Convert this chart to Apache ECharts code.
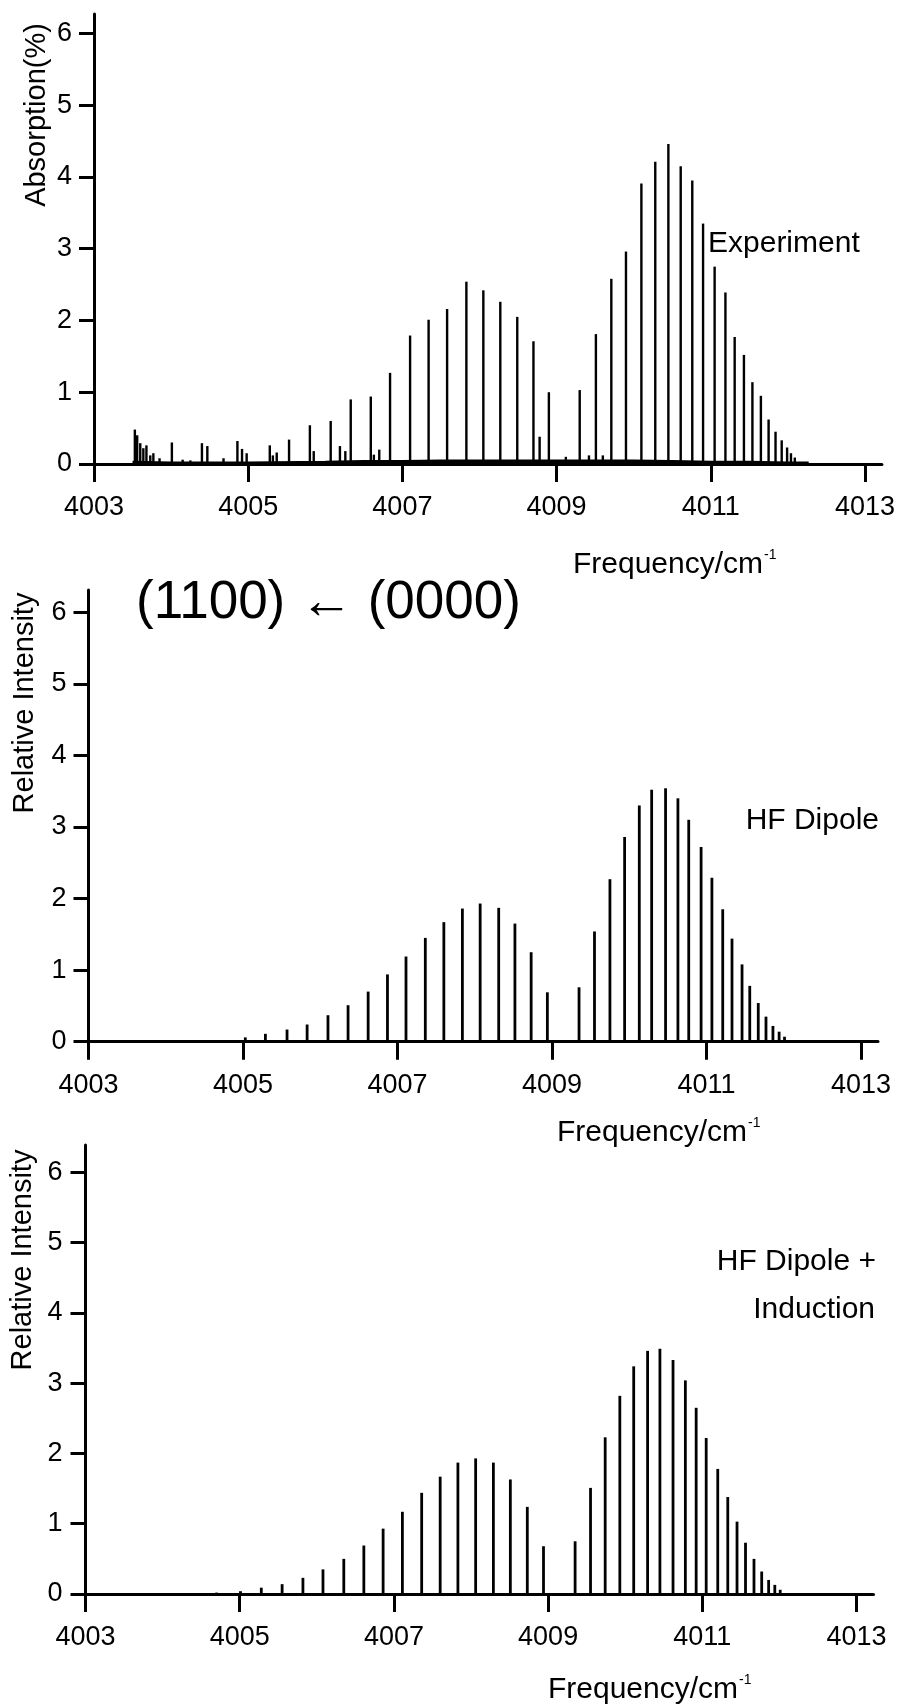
<!DOCTYPE html>
<html><head><meta charset="utf-8">
<script src="https://cdn.jsdelivr.net/npm/echarts@6/dist/echarts.min.js"></script>
<style>html,body{margin:0;padding:0;background:#fff}#c{width:898px;height:1704px}</style>
</head><body><div id="c"></div>
<script>
// ---- tick labels ----
const X_TICKS = [4003, 4005, 4007, 4009, 4011, 4013];
const Y_TICKS = [0, 1, 2, 3, 4, 5, 6];

// ---- Experiment (absorption %) ----
const expFreq = [4003.53,4003.56,4003.60,4003.64,4003.68,4003.73,4003.77,4003.85,4004.01,4004.15,4004.25,
  4004.40,4004.47,4004.68,4004.86,4004.92,4004.98,4005.28,4005.32,4005.37,4005.53,4005.80,4005.85,
  4006.07,4006.19,4006.26,4006.33,4006.59,4006.63,4006.70,4006.84,4007.10,4007.34,4007.58,4007.83,
  4008.05,4008.27,4008.49,4008.70,4008.78,4008.90,4009.12,4009.30,4009.42,4009.51,4009.60,4009.71,
  4009.90,4010.10,4010.28,4010.45,4010.61,4010.76,4010.90,4011.05,4011.19,4011.31,4011.43,4011.54,
  4011.65,4011.75,4011.84,4011.92,4011.99,4012.04,4012.09];
const expInt = [0.48,0.40,0.29,0.22,0.26,0.12,0.15,0.08,0.30,0.06,0.05,
  0.29,0.25,0.08,0.32,0.21,0.15,0.26,0.12,0.16,0.34,0.54,0.18,
  0.60,0.25,0.18,0.90,0.94,0.13,0.20,1.27,1.79,2.01,2.16,2.54,
  2.42,2.26,2.05,1.71,0.38,1.00,0.10,1.03,0.12,1.81,0.12,2.58,
  2.96,3.91,4.21,4.46,4.15,3.95,3.35,2.75,2.39,1.77,1.52,1.14,
  0.95,0.62,0.45,0.33,0.23,0.15,0.09];
// noisy experimental baseline (hand-read envelope)
const expBaseFreq = [4003.5,4004,4005,4006,4006.5,4007,4007.5,4008,4008.5,4009,4009.5,4010,4010.5,4011,4011.5,4012,4012.27];
const expBaseInt  = [0.02,0.01,0.01,0.02,0.03,0.03,0.04,0.04,0.04,0.04,0.04,0.04,0.03,0.02,0.02,0.01,0.01];

// ---- HF Dipole (relative intensity) ----
const dipFreq = [4004.70,4005.03,4005.29,4005.57,4005.83,4006.10,4006.36,4006.62,4006.87,4007.11,4007.36,4007.60,
  4007.84,4008.07,4008.31,4008.52,4008.73,4008.94,4009.35,4009.55,4009.75,4009.94,4010.13,4010.29,4010.47,
  4010.63,4010.77,4010.93,4011.07,4011.21,4011.33,4011.46,4011.56,4011.67,4011.77,4011.86,4011.94,4012.01];
const dipInt = [0.02,0.06,0.11,0.17,0.24,0.37,0.51,0.70,0.94,1.19,1.45,1.67,
  1.86,1.93,1.87,1.65,1.25,0.69,0.76,1.54,2.27,2.86,3.30,3.52,3.54,
  3.40,3.10,2.72,2.29,1.85,1.44,1.08,0.78,0.54,0.35,0.22,0.14,0.07];

// ---- HF Dipole + Induction (relative intensity) ----
const indFreq = [4004.70,4005.01,4005.28,4005.55,4005.82,4006.08,4006.35,4006.61,4006.86,4007.11,4007.36,4007.60,
  4007.83,4008.06,4008.29,4008.51,4008.73,4008.94,4009.35,4009.55,4009.74,4009.93,4010.11,4010.29,4010.45,
  4010.62,4010.78,4010.92,4011.05,4011.20,4011.33,4011.45,4011.56,4011.67,4011.77,4011.86,4011.94,4012.01];
const indInt = [0.02,0.04,0.09,0.14,0.23,0.35,0.50,0.69,0.93,1.17,1.44,1.67,
  1.87,1.93,1.87,1.63,1.24,0.68,0.75,1.51,2.23,2.82,3.24,3.46,3.49,
  3.33,3.04,2.65,2.22,1.78,1.38,1.03,0.73,0.50,0.32,0.20,0.13,0.06];

const pairs = (xs, ys) => xs.map((x, i) => [x, ys[i]]);
const FONT = '"Liberation Sans", Arial, Helvetica, sans-serif';

function stick(lw) {
  return function (params, api) {
    const x = api.value(0), y = api.value(1);
    const p0 = api.coord([x, 0]), p1 = api.coord([x, y]);
    return { type: 'line', shape: { x1: p0[0], y1: p0[1], x2: p1[0], y2: p1[1] },
      style: { stroke: '#000', lineWidth: lw } };
  };
}
function xAx(i) {
  return { type: 'value', gridIndex: i, min: 4003, max: 4013.22,
    axisLine: { onZero: false, lineStyle: { color: '#000', width: 3 } },
    axisTick: { customValues: X_TICKS, length: 18, lineStyle: { color: '#000', width: 3 } },
    axisLabel: { customValues: X_TICKS, margin: 30, color: '#000', fontSize: 27, fontFamily: FONT,
      formatter: v => String(v) },
    splitLine: { show: false } };
}
function yAx(i, max, margin) {
  return { type: 'value', gridIndex: i, min: 0, max: max,
    axisLine: { show: true, onZero: false, lineStyle: { color: '#000', width: 3 } },
    axisTick: { show: true, customValues: Y_TICKS, length: 15, lineStyle: { color: '#000', width: 3 } },
    axisLabel: { customValues: Y_TICKS, margin: margin, color: '#000', fontSize: 27, fontFamily: FONT,
      formatter: v => String(v) },
    splitLine: { show: false } };
}
function txt(x, y, text, size, align, rot) {
  return { type: 'text', x: x, y: y, rotation: rot || 0,
    style: { text: text, fill: '#000', font: size + 'px ' + FONT,
      textAlign: align, textVerticalAlign: 'middle', align: align, verticalAlign: 'middle' } };
}
function freqTitle(x, y) {
  return { type: 'text', x: x, y: y,
    style: { text: '{a|Frequency/cm}{b|-1}', fill: '#000', textAlign: 'left', textVerticalAlign: 'middle',
      align: 'left', verticalAlign: 'middle',
      rich: { a: { fontSize: 30, fontFamily: FONT, color: '#000', lineHeight: 34 },
              b: { fontSize: 14, fontFamily: FONT, color: '#000', verticalAlign: 'top', lineHeight: 34, padding: [0, 0, 0, 1] } } } };
}

const chart = echarts.init(document.getElementById('c'), null, { renderer: 'canvas' });
chart.setOption({
  animation: false,
  backgroundColor: '#fff',
  grid: [
    { left: 94, top: 14, width: 789, height: 450 },
    { left: 88.5, top: 590, width: 789.5, height: 451.7 },
    { left: 85.5, top: 1145, width: 788, height: 449 }
  ],
  xAxis: [xAx(0), xAx(1), xAx(2)],
  yAxis: [yAx(0, 6.27, 22), yAx(1, 6.31, 22), yAx(2, 6.39, 23)],
  series: [
    { type: 'line', xAxisIndex: 0, yAxisIndex: 0, data: pairs(expBaseFreq, expBaseInt),
      symbol: 'none', lineStyle: { color: '#000', width: 3.5 }, silent: true },
    { type: 'custom', xAxisIndex: 0, yAxisIndex: 0, data: pairs(expFreq, expInt), renderItem: stick(2.4), encode: { x: 0, y: 1 } },
    { type: 'custom', xAxisIndex: 1, yAxisIndex: 1, data: pairs(dipFreq, dipInt), renderItem: stick(2.8), encode: { x: 0, y: 1 } },
    { type: 'custom', xAxisIndex: 2, yAxisIndex: 2, data: pairs(indFreq, indInt), renderItem: stick(2.8), encode: { x: 0, y: 1 } }
  ],
  graphic: [
    txt(37, 115, 'Absorption(%)', 29, 'center', Math.PI / 2),
    txt(25, 703, 'Relative Intensity', 29, 'center', Math.PI / 2),
    txt(23, 1260, 'Relative Intensity', 29, 'center', Math.PI / 2),
    txt(708, 244, 'Experiment', 30, 'left'),
    txt(879, 821, 'HF Dipole', 30, 'right'),
    txt(876, 1262, 'HF Dipole +', 30, 'right'),
    txt(875, 1310, 'Induction', 30, 'right'),
    txt(136, 603, '(1100) \u2190 (0000)', 53, 'left'),
    freqTitle(573, 565),
    freqTitle(557, 1133),
    freqTitle(548, 1690)
  ]
});
</script>
</body></html>
